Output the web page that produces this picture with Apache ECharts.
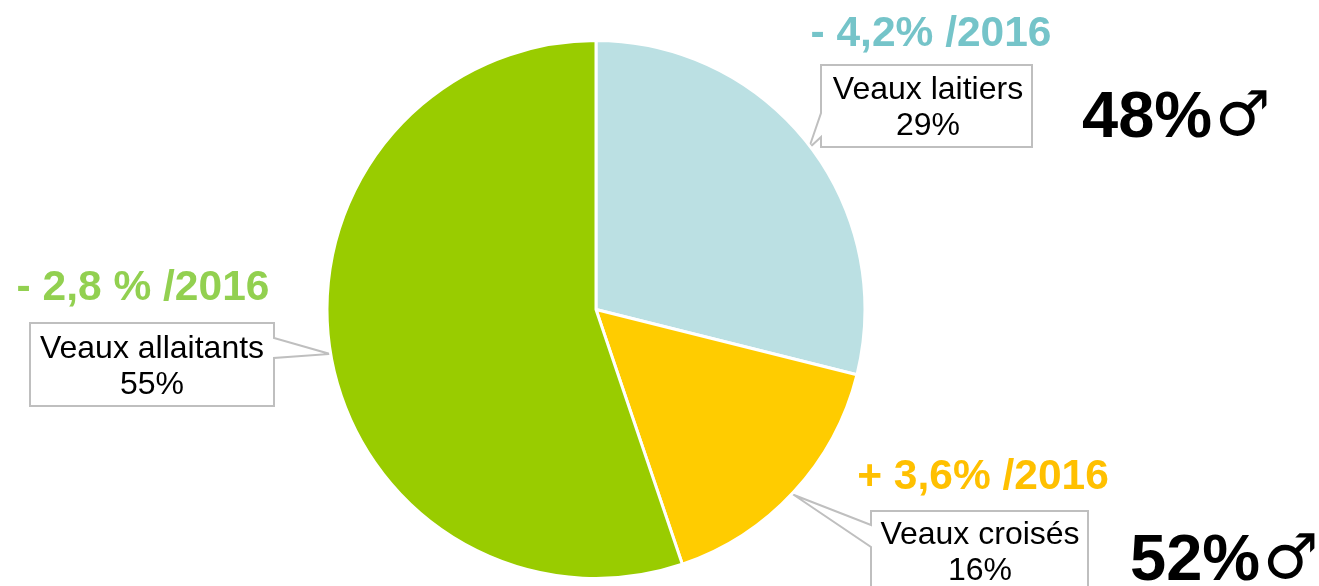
<!DOCTYPE html>
<html><head><meta charset="utf-8">
<style>html,body{margin:0;padding:0;background:#fff}#c{width:1319px;height:586px}</style>
<script src="https://cdn.jsdelivr.net/npm/echarts@6/dist/echarts.min.js"></script>
</head><body><div id="c"></div>
<script>
const categories = ['Veaux laitiers', 'Veaux croisés', 'Veaux allaitants'];
const shares = [28.9, 15.9, 55.2];
const evolutions = ['- 4,2% /2016', '+ 3,6% /2016', '- 2,8 % /2016'];
const maleShares = ['48%', '52%'];
const sliceColors = ['#BBE0E3', '#FFCC00', '#99CC00'];
const evolutionColors = ['#75C4C9', '#FFC000', '#92D050'];

const FONT = '"Liberation Sans", Arial, sans-serif';
const labelCentres = [[928, 108], [980, 553], [152, 367]];
const callouts = [
  [[821,65],[1032,65],[1032,147],[821,147],[821,137],[809,148],[821,113]],
  [[871,511],[1088,511],[1088,600],[871,600],[871,547],[794,495],[871,525]],
  [[30,323],[274,323],[274,338],[330,354],[274,358],[274,406],[30,406]]
];
const evoPos = [[931, 34], [983, 477], [143, 288]];

const graphic = [];
callouts.forEach(p => graphic.push({
  type: 'polygon', z: 1, silent: true,
  shape: { points: p },
  style: { fill: '#fff', stroke: '#BFBFBF', lineWidth: 2 }
}));
evolutions.forEach((t, i) => graphic.push({
  type: 'text', z: 10, x: evoPos[i][0], y: evoPos[i][1],
  style: { text: t, fill: evolutionColors[i], font: 'bold 42.5px ' + FONT, textAlign: 'center', textVerticalAlign: 'middle' }
}));
const malePos = [[1082, 119], [1130, 562]];
const symPos = [[1215, 119], [1263, 562]];
maleShares.forEach((t, i) => {
  graphic.push({
    type: 'text', z: 10, x: malePos[i][0], y: malePos[i][1],
    style: { text: t, fill: '#000', font: 'bold 65px ' + FONT, textAlign: 'left', textVerticalAlign: 'middle' }
  });
  graphic.push({
    type: 'text', z: 10, x: symPos[i][0], y: symPos[i][1],
    style: { text: '♂', fill: '#000', font: 'bold 62px "DejaVu Sans", sans-serif', textAlign: 'left', textVerticalAlign: 'middle' }
  });
});

const chart = echarts.init(document.getElementById('c'), null, { renderer: 'canvas' });
chart.setOption({
  animation: false,
  graphic: graphic,
  series: [{
    type: 'pie', z: 2,
    center: [596, 309.5],
    radius: [0, 269],
    startAngle: 90,
    clockwise: true,
    silent: true,
    itemStyle: { borderColor: '#fff', borderWidth: 3 },
    data: categories.map((c, i) => ({ name: c, value: shares[i], itemStyle: { color: sliceColors[i] } })),
    label: {
      show: true, position: 'outside',
      formatter: p => p.name + '\n' + Math.round(p.value) + '%',
      color: '#000', fontFamily: FONT, fontSize: 32, lineHeight: 36, align: 'center', verticalAlign: 'middle'
    },
    labelLine: { show: false },
    labelLayout: p => ({ x: labelCentres[p.dataIndex][0], y: labelCentres[p.dataIndex][1], align: 'center', verticalAlign: 'middle', hideOverlap: false })
  }]
});
</script></body></html>
